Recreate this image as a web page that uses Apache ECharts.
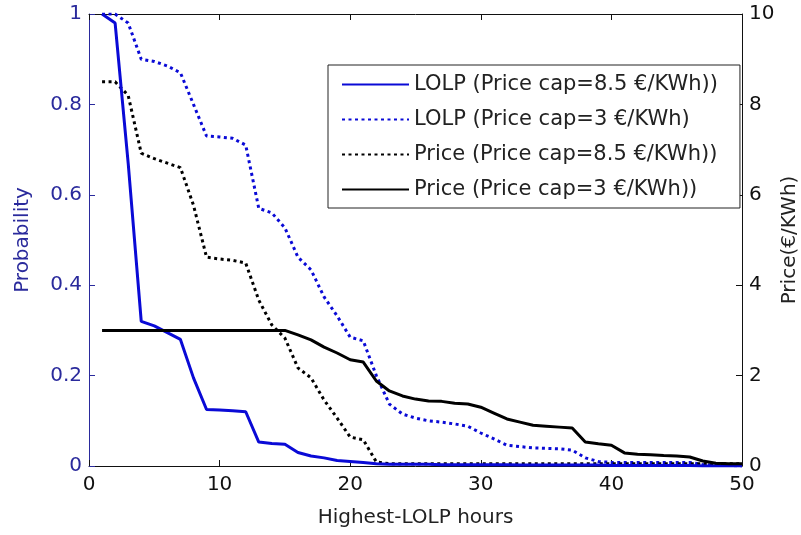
<!DOCTYPE html>
<html>
<head>
<meta charset="utf-8">
<script src="https://cdn.jsdelivr.net/npm/echarts@6/dist/echarts.min.js"></script>
<style>
  html, body { margin: 0; padding: 0; background: #ffffff; }
  #chart { width: 801px; height: 535px; }
</style>
</head>
<body>
<div id="chart"></div>
<script>
// Hours ranked by loss-of-load probability
const hours = [1,2,3,4,5,6,7,8,9,10,11,12,13,14,15,16,17,18,19,20,21,22,23,24,25,
  26,27,28,29,30,31,32,33,34,35,36,37,38,39,40,41,42,43,44,45,46,47,48,49,50];

// LOLP with a price cap of 8.5 €/KWh
const lolpCap85 = [1.0,0.98,0.67,0.32,0.31,0.295,0.28,0.195,0.125,0.124,0.122,0.12,0.053,0.05,0.048,
  0.03,0.022,0.018,0.012,0.01,0.008,0.005,0.004,0.004,0.004,0.004,0.003,0.003,0.003,0.003,
  0.003,0.003,0.002,0.002,0.002,0.002,0.002,0.002,0.002,0.001,0.001,0.001,0.001,0.001,0.001,
  0.001,0.0,0.0,0.0,0.0];

// LOLP with a price cap of 3 €/KWh
const lolpCap3 = [1.0,1.0,0.98,0.9,0.895,0.885,0.87,0.8,0.73,0.728,0.725,0.71,0.57,0.56,0.527,
  0.462,0.434,0.374,0.332,0.285,0.277,0.2,0.137,0.115,0.106,0.1,0.097,0.093,0.088,0.073,
  0.06,0.046,0.043,0.04,0.039,0.038,0.035,0.018,0.01,0.008,0.008,0.008,0.008,0.008,0.008,
  0.008,0.003,0.002,0.001,0.0];

// Price with a cap of 8.5 €/KWh
const priceCap85 = [8.5,8.5,8.2,6.92,6.8,6.7,6.6,5.77,4.62,4.58,4.55,4.49,3.67,3.12,2.83,
  2.17,1.95,1.46,1.06,0.64,0.58,0.09,0.05,0.05,0.05,0.05,0.05,0.05,0.05,0.05,
  0.05,0.05,0.05,0.05,0.05,0.05,0.05,0.05,0.05,0.05,0.05,0.05,0.05,0.05,0.05,
  0.05,0.05,0.05,0.05,0.05];

// Price with a cap of 3 €/KWh
const priceCap3 = [3.0,3.0,3.0,3.0,3.0,3.0,3.0,3.0,3.0,3.0,3.0,3.0,3.0,3.0,3.0,
  2.9,2.79,2.63,2.5,2.35,2.3,1.88,1.66,1.55,1.48,1.44,1.43,1.39,1.37,1.3,
  1.17,1.04,0.97,0.9,0.88,0.86,0.84,0.53,0.49,0.46,0.29,0.26,0.25,0.23,0.22,
  0.2,0.11,0.06,0.05,0.05];

const seriesNames = [
  'LOLP (Price cap=8.5 €/KWh))',
  'LOLP (Price cap=3 €/KWh)',
  'Price (Price cap=8.5 €/KWh))',
  'Price (Price cap=3 €/KWh))'
];

const xTicks = [0, 10, 20, 30, 40, 50];
const probTicks = [0, 0.2, 0.4, 0.6, 0.8, 1];
const priceTicks = [0, 2, 4, 6, 8, 10];

const pairs = vals => hours.map((h, i) => [h, vals[i]]);

const BLUE = '#0a0ad6';
const AXIS_BLUE = '#2a2a9c';
const TEXT = '#222222';
const FONT = 'DejaVu Sans, Liberation Sans, sans-serif';

const chart = echarts.init(document.getElementById('chart'), null, { renderer: 'canvas' });

const tickFont = { fontFamily: FONT, fontSize: 20 };
const nameFont = { fontFamily: FONT, fontSize: 20 };

chart.setOption({
  animation: false,
  backgroundColor: '#ffffff',
  grid: { left: 89, right: 59, top: 14, bottom: 69, containLabel: false, outerBoundsMode: 'none' },
  legend: {
    orient: 'vertical',
    left: 328,
    top: 65,
    backgroundColor: '#ffffff',
    borderColor: '#222222',
    borderWidth: 1,
    padding: [9, 22, 8, 13],
    itemWidth: 67,
    itemHeight: 14,
    itemGap: 14,
    itemStyle: { opacity: 0 },
    textStyle: { fontFamily: FONT, fontSize: 21, lineHeight: 21, color: TEXT },
    data: seriesNames.map(n => ({ name: n }))
  },
  xAxis: [
    {
      type: 'value', min: xTicks[0], max: xTicks[xTicks.length - 1], interval: 10,
      position: 'bottom',
      name: 'Highest-LOLP hours', nameLocation: 'middle', nameGap: 42,
      nameMoveOverlap: false,
      nameTextStyle: Object.assign({ color: TEXT }, nameFont),
      axisLine: { show: true, onZero: false, lineStyle: { color: '#111111', width: 1 } },
      axisTick: { show: true, inside: true, length: 6, lineStyle: { color: '#111111' } },
      axisLabel: Object.assign({ color: '#111111', margin: 9 }, tickFont),
      splitLine: { show: false }
    },
    {
      type: 'value', min: xTicks[0], max: xTicks[xTicks.length - 1], interval: 10,
      position: 'top',
      axisLine: { show: true, onZero: false, lineStyle: { color: '#111111', width: 1 } },
      axisTick: { show: true, inside: true, length: 6, lineStyle: { color: '#111111' } },
      axisLabel: { show: false },
      splitLine: { show: false }
    }
  ],
  yAxis: [
    {
      type: 'value', min: probTicks[0], max: probTicks[probTicks.length - 1], interval: 0.2,
      position: 'left',
      name: 'Probability', nameLocation: 'middle', nameGap: 56,
      nameMoveOverlap: false,
      nameTextStyle: Object.assign({ color: AXIS_BLUE }, nameFont),
      axisLine: { show: true, onZero: false, lineStyle: { color: AXIS_BLUE, width: 1 } },
      axisTick: { show: true, inside: true, length: 6, lineStyle: { color: AXIS_BLUE } },
      axisLabel: Object.assign({ color: AXIS_BLUE, margin: 7 }, tickFont),
      splitLine: { show: false }
    },
    {
      type: 'value', min: priceTicks[0], max: priceTicks[priceTicks.length - 1], interval: 2,
      position: 'right',
      name: 'Price(€/KWh)', nameLocation: 'middle', nameGap: 38,
      nameMoveOverlap: false,
      nameTextStyle: Object.assign({ color: TEXT }, nameFont),
      axisLine: { show: true, onZero: false, lineStyle: { color: '#111111', width: 1 } },
      axisTick: { show: true, inside: true, length: 6, lineStyle: { color: '#111111' } },
      axisLabel: Object.assign({ color: '#111111', margin: 7 }, tickFont),
      splitLine: { show: false }
    }
  ],
  series: [
    {
      name: seriesNames[0], type: 'line', xAxisIndex: 0, yAxisIndex: 0,
      data: pairs(lolpCap85), symbol: 'none', z: 4,
      lineStyle: { color: BLUE, width: 3, type: 'solid' },
      itemStyle: { color: BLUE }
    },
    {
      name: seriesNames[1], type: 'line', xAxisIndex: 0, yAxisIndex: 0,
      data: pairs(lolpCap3), symbol: 'none', z: 3,
      lineStyle: { color: BLUE, width: 3, type: [3, 3.5] },
      itemStyle: { color: BLUE }
    },
    {
      name: seriesNames[2], type: 'line', xAxisIndex: 0, yAxisIndex: 1,
      data: pairs(priceCap85), symbol: 'none', z: 3,
      lineStyle: { color: '#000000', width: 3, type: [3, 3.5] },
      itemStyle: { color: '#000000' }
    },
    {
      name: seriesNames[3], type: 'line', xAxisIndex: 0, yAxisIndex: 1,
      data: pairs(priceCap3), symbol: 'none', z: 4,
      lineStyle: { color: '#000000', width: 3, type: 'solid' },
      itemStyle: { color: '#000000' }
    }
  ]
});
</script>
</body>
</html>
